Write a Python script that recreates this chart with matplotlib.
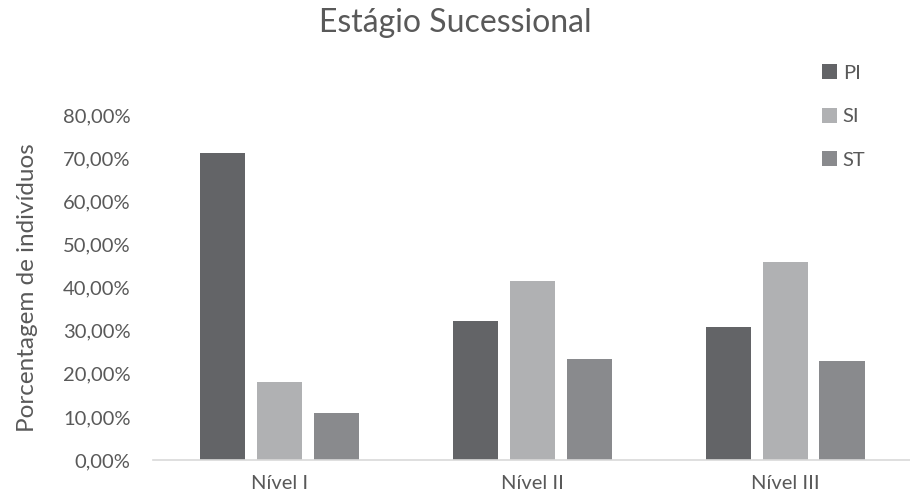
import matplotlib.pyplot as plt
import matplotlib.ticker as mticker
import numpy as np

categories = ['Nível I', 'Nível II', 'Nível III']
series = ['PI', 'SI', 'ST']
pi_vals = [0.713, 0.324, 0.309]
si_vals = [0.181, 0.417, 0.461]
st_vals = [0.109, 0.234, 0.230]
colors = ['#636467', '#b0b1b3', '#898a8d']

plt.rcParams['font.family'] = ['Lato', 'DejaVu Sans']
text_color = '#595959'

fig = plt.figure(figsize=(9.10, 5.01), dpi=100)
ax = fig.add_axes([0.168, 0.082, 0.834, 0.687])

x = np.arange(len(categories))
width = 0.178
step = 0.224
for i, (name, vals) in enumerate(zip(series, [pi_vals, si_vals, st_vals])):
    ax.bar(x + (i - 1) * step, vals, width, color=colors[i], label=name, zorder=2)

ax.set_xlim(-0.5, 2.5)
ax.set_ylim(0, 0.8)
ax.set_xticks(x)
ax.set_xticklabels(categories)
ax.yaxis.set_major_locator(mticker.MultipleLocator(0.1))
ax.yaxis.set_major_formatter(mticker.FuncFormatter(lambda v, p: f'{v*100:.2f}%'.replace('.', ',')))

for side in ['top', 'right', 'left']:
    ax.spines[side].set_visible(False)
ax.spines['bottom'].set_color('#d9d9d9')
ax.spines['bottom'].set_linewidth(1.2)
ax.tick_params(axis='both', length=0, labelsize=14.5, colors=text_color)
ax.tick_params(axis='y', pad=16)
ax.tick_params(axis='x', pad=11)

ax.set_ylabel('Porcentagem de indivíduos', fontsize=17.5, color=text_color, labelpad=18)
fig.suptitle('Estágio Sucessional', fontsize=23, color=text_color, y=0.985)

fig.legend(loc='upper left', bbox_to_anchor=(0.883, 0.908), frameon=False,
           fontsize=14.5, labelcolor=text_color, handlelength=0.75, handleheight=0.75,
           handletextpad=0.3, labelspacing=1.3)

fig.savefig('out.png', dpi=100)
